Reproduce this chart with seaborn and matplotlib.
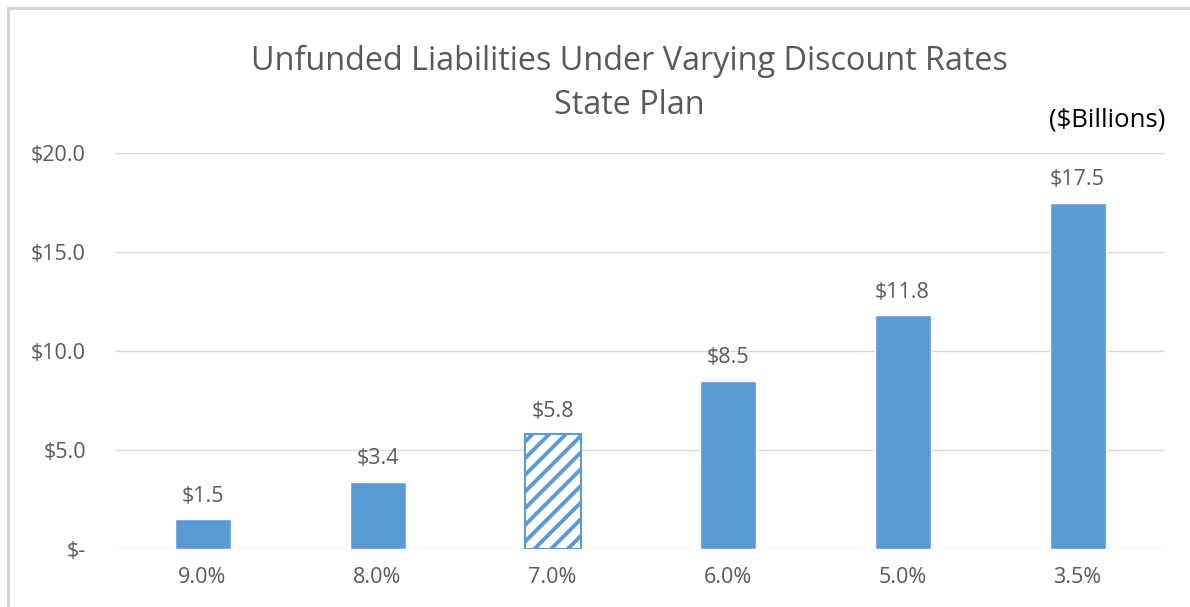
import matplotlib
matplotlib.use("Agg")
import matplotlib.pyplot as plt
import seaborn as sns
import pandas as pd
from matplotlib.patches import Rectangle

rates = ["9.0%", "8.0%", "7.0%", "6.0%", "5.0%", "3.5%"]
unfunded = [1.5, 3.4, 5.8, 8.5, 11.8, 17.5]
bar_labels = ["$1.5", "$3.4", "$5.8", "$8.5", "$11.8", "$17.5"]
y_ticks = [0, 5, 10, 15, 20]
y_tick_labels = ["$-", "$5.0", "$10.0", "$15.0", "$20.0"]
highlight = "7.0%"

sns.set_theme(style="white")
plt.rcParams['font.family'] = ['Open Sans', 'DejaVu Sans']
plt.rcParams['hatch.linewidth'] = 2.8

BLUE = "#5B9BD5"
GREY = "#595959"
GRID = "#D9D9D9"

df = pd.DataFrame({"rate": rates, "value": unfunded})

fig = plt.figure(figsize=(11.9, 6.07), dpi=100)
ax = fig.add_axes([115/1190, 1-549/607, 1050/1190, (549-153)/607])

sns.barplot(data=df, x="rate", y="value", color=BLUE, saturation=1, width=0.32, ax=ax)

for patch, r in zip(ax.patches, rates):
    if r == highlight:
        patch.set_facecolor("white")
        patch.set_edgecolor(BLUE)
        patch.set_hatch("//")
        patch.set_linewidth(1.5)

ax.bar_label(ax.containers[0], labels=bar_labels, padding=9, fontsize=15.5, color=GREY)

ax.set_ylim(0, 20)
ax.set_xlim(-0.5, len(rates) - 0.5)
ax.set_yticks(y_ticks)
ax.set_yticklabels(y_tick_labels)
ax.yaxis.grid(True, color=GRID, linewidth=1)
ax.set_axisbelow(True)
for s in ax.spines.values():
    s.set_visible(False)
ax.tick_params(axis="both", length=0, labelsize=15.5, labelcolor=GREY)
ax.tick_params(axis="y", pad=21)
ax.tick_params(axis="x", pad=13)
ax.set_xlabel("")
ax.set_ylabel("")

fig.text(629/1190, 1-61/607, "Unfunded Liabilities Under Varying Discount Rates",
         ha="center", va="center", fontsize=23.3, color=GREY)
fig.text(629/1190, 1-105/607, "State Plan",
         ha="center", va="center", fontsize=23.3, color=GREY)
fig.text(1107/1190, 1-120/607, "($Billions)", ha="center", va="center",
         fontsize=18.5, color="black")

fig.add_artist(Rectangle((8/1190, -0.01), 1.02, 1 - 8/607 + 0.01, transform=fig.transFigure,
                         fill=False, edgecolor="#D0D0D0", linewidth=2))

fig.savefig("out.png", dpi=100)
